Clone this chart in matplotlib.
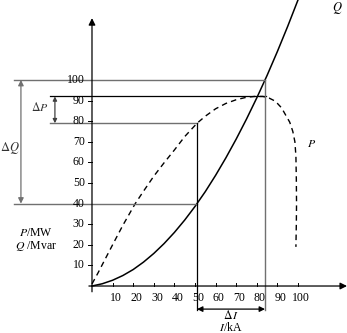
import matplotlib
matplotlib.use('Agg')
import matplotlib.pyplot as plt

# 数据
I_q = [0, 5, 10, 15, 20, 25, 30, 35, 40, 45, 50, 55, 60, 65, 70, 75, 80, 85, 90, 95, 100]
Q_vals = [0, 1.1, 2.8, 5.1, 8.0, 11.6, 15.8, 20.6, 26.0, 32.0, 38.6, 45.8, 53.7,
          62.2, 71.3, 81.0, 91.3, 102.2, 113.8, 126.0, 138.8]

I_p = [0, 3, 6, 10, 15, 21, 25, 30, 35, 40, 45, 51, 55, 60, 65, 70, 75, 79, 83,
       86, 89, 92, 94, 96, 97.5, 98.5, 99.0, 99.2, 99.3, 99.2, 99.0]
P_vals = [1, 6.5, 12.3, 20, 29.5, 40, 46, 53.3, 59.8, 66, 72.5, 79, 82.4, 86, 88.6,
          90.4, 91.6, 92, 92, 91.2, 89.7, 86.5, 83, 79.5, 75, 70, 63, 52, 40, 30, 19]

I1, I2 = 51, 84          # 两个运行点的电流
P1, P2 = 79, 92          # 有功
Q1, Q2 = 40, 100         # 无功
ticks = [10, 20, 30, 40, 50, 60, 70, 80, 90, 100]

plt.rcParams['font.family'] = ['Liberation Serif', 'DejaVu Serif']
plt.rcParams['mathtext.fontset'] = 'stix'

fig = plt.figure(figsize=(3.47, 3.33), dpi=100)
ax = fig.add_axes([0, 0, 1, 1])
ax.set_xlim(-44.66, 123.8)
ax.set_ylim(-22.8, 138.8)
ax.axis('off')

grey = '#707070'
fs = 8.5

# 坐标轴
ax.annotate('', xy=(0, 130), xytext=(0, -2.8),
            arrowprops=dict(arrowstyle='-|>', color='black', lw=0.9,
                            mutation_scale=10, shrinkA=0, shrinkB=0))
ax.annotate('', xy=(123.8, 0), xytext=(-1.5, 0),
            arrowprops=dict(arrowstyle='-|>', color='black', lw=0.9,
                            mutation_scale=10, shrinkA=0, shrinkB=0))

# 刻度
for t in ticks:
    ax.plot([-2.0, 0], [t, t], color='black', lw=0.7)
    ax.text(-3.5, t, str(t), ha='right', va='center', fontsize=fs)
    ax.plot([t, t], [0, 1.6], color='black', lw=0.7)
    ax.text(t + 1.5, -6.0, str(t), ha='center', va='center', fontsize=fs)

# 曲线
ax.plot(I_q, Q_vals, color='black', lw=1.1)
ax.plot(I_p, P_vals, color='black', lw=1.0, dashes=(4, 3))

# 辅助线
ax.plot([-37.9, I2], [Q2, Q2], color=grey, lw=1.0)
ax.plot([-20.4, I2 + 0.6], [P2, P2], color='black', lw=0.9)
ax.plot([-20.4, I1], [P1, P1], color=grey, lw=1.0)
ax.plot([-37.9, I1], [Q1, Q1], color=grey, lw=1.0)
ax.plot([I1, I1], [-11.6, P1], color='black', lw=0.9)
ax.plot([I2, I2], [-11.6, Q2], color=grey, lw=1.0)

# ΔQ, ΔP, ΔI 箭头
ax.annotate('', xy=(-34.5, Q2), xytext=(-34.5, Q1),
            arrowprops=dict(arrowstyle='<|-|>', color=grey, lw=0.9,
                            mutation_scale=8, shrinkA=0, shrinkB=0))
ax.annotate('', xy=(-18, P2), xytext=(-18, P1),
            arrowprops=dict(arrowstyle='<|-|>', color='#404040', lw=0.9,
                            mutation_scale=6, shrinkA=0, shrinkB=0))
ax.annotate('', xy=(I1, -11.2), xytext=(I2, -11.2),
            arrowprops=dict(arrowstyle='<|-|>', color='black', lw=0.9,
                            mutation_scale=8, shrinkA=0, shrinkB=0))

# 文字
ax.text(-39.8, 67, r'$\Delta\mathit{Q}$', ha='center', va='center', fontsize=fs + 0.5, color='#333333')
ax.text(-25.2, 86.4, r'$\Delta\mathit{P}$', ha='center', va='center', fontsize=fs, color='#333333')
ax.text(-27.2, 25.7, r'$\mathit{P}$/MW', ha='center', va='center', fontsize=fs)
ax.text(-27.2, 19.4, r'$\mathit{Q}$ /Mvar', ha='center', va='center', fontsize=fs)
ax.text(119, 135, r'$\mathit{Q}$', ha='center', va='center', fontsize=fs + 0.5)
ax.text(106.8, 69, r'$\mathit{P}$', ha='center', va='center', fontsize=fs)
ax.text(67.5, -14.4, r'$\Delta\,\mathit{I}$', ha='center', va='center', fontsize=fs)
ax.text(67.5, -20.0, r'$\mathit{I}$/kA', ha='center', va='center', fontsize=fs)

fig.savefig('out.png', dpi=100)
